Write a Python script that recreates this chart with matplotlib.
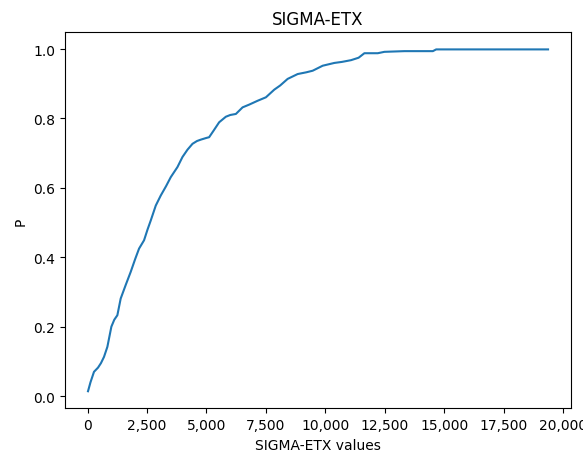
import matplotlib.pyplot as plt
from matplotlib.ticker import StrMethodFormatter

sigma_etx = [15, 120, 267, 436, 560, 688, 830, 998, 1120, 1250, 1390, 1600, 1812,
             2000, 2163, 2373, 2520, 2655, 2866, 3076, 3300, 3498, 3779, 3990,
             4200, 4412, 4600, 4762, 5000, 5112, 5300, 5533, 5815, 6000, 6237,
             6519, 6800, 7151, 7501, 7852, 8100, 8415, 8837, 9200, 9469, 9890,
             10380, 10700, 11083, 11400, 11644, 12208, 12486, 13330, 14526,
             14665, 19372]
p = [0.014, 0.04, 0.07, 0.082, 0.095, 0.113, 0.142, 0.2, 0.22, 0.233, 0.281,
     0.32, 0.358, 0.395, 0.425, 0.449, 0.48, 0.506, 0.549, 0.578, 0.605,
     0.631, 0.66, 0.689, 0.71, 0.727, 0.735, 0.739, 0.744, 0.746, 0.765,
     0.789, 0.805, 0.81, 0.813, 0.832, 0.84, 0.851, 0.861, 0.883, 0.895,
     0.914, 0.928, 0.933, 0.9376, 0.952, 0.96, 0.963, 0.968, 0.975, 0.988,
     0.988, 0.992, 0.994, 0.994, 0.999, 0.999]

fig = plt.figure(figsize=(5.83, 4.52), dpi=100)
ax = fig.add_axes([0.1115, 0.0944, 0.868, 0.8319])
ax.plot(sigma_etx, p, color='#1f77b4')
ax.set_title("SIGMA-ETX")
ax.set_xlabel("SIGMA-ETX values")
ax.set_ylabel("P")
ax.set_xticks([0, 2500, 5000, 7500, 10000, 12500, 15000, 17500, 20000])
ax.xaxis.set_major_formatter(StrMethodFormatter('{x:,.0f}'))
fig.savefig("out.png", dpi=100)
